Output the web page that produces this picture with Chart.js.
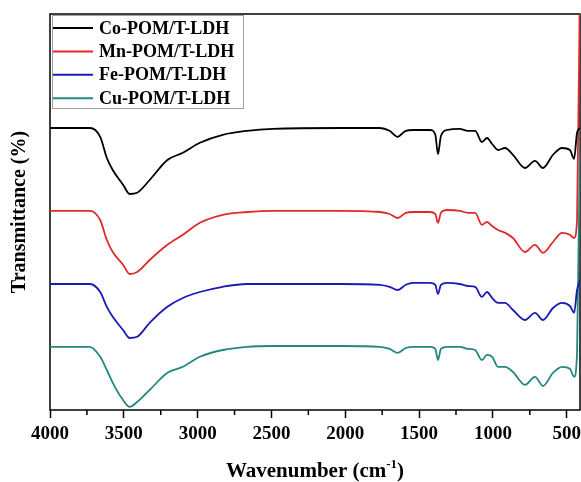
<!DOCTYPE html>
<html>
<head>
<meta charset="utf-8">
<script src="https://cdn.jsdelivr.net/npm/chart.js@4.4.1/dist/chart.umd.min.js"></script>
<style>
  html, body { margin: 0; padding: 0; background: #fff; }
</style>
</head>
<body>
<canvas id="ftir" width="581" height="482"></canvas>
<script>
// FTIR spectra, traces stacked with an offset (arbitrary transmittance units)
const wavenumbers = [4000, 3730, 3660, 3615, 3575, 3505, 3460, 3410, 3325, 3205, 3100, 2985, 2830, 2665, 2490, 2035,
  1765, 1700, 1645, 1590, 1540, 1425, 1390, 1372, 1352, 1310, 1225, 1170, 1120, 1075, 1040, 1005, 965, 918, 864,
  783, 715, 661, 593, 532, 478, 450, 430, 410];

const coT = [70.5, 70.5, 68.3, 63, 60, 56.3, 54, 54.3, 57.5, 62.5, 64.3, 66.8, 68.8, 69.8, 70.3, 70.5,
  70.5, 69.8, 68.3, 69.8, 70, 70, 68.8, 64, 68.5, 70, 70.3, 69.8, 69.8, 67, 68, 66.5, 65, 65.5, 63.8,
  60.5, 62.3, 60.5, 63.8, 65.5, 65, 62.8, 69.3, 70.5];
const mnT = [49.8, 49.8, 47.5, 42.5, 39.5, 36.3, 34, 34.5, 37.5, 41.3, 43.8, 46.8, 48.8, 49.5, 49.8, 49.8,
  49.5, 49, 48, 49.3, 49.5, 49.5, 49, 46.8, 49.3, 50, 49.8, 49.3, 49.3, 46.3, 47, 46, 45, 44.3, 43,
  39.5, 41.3, 39.3, 42, 44.3, 43.8, 43, 47.5, 110];
const feT = [31.5, 31.5, 29.5, 25.8, 23.3, 20, 18, 18.3, 21.8, 25.8, 28, 29.5, 30.8, 31.5, 31.5, 31.5,
  31.3, 30.8, 30, 31.3, 31.8, 31.8, 31.3, 29, 31.3, 31.8, 31.5, 31, 30.8, 28.3, 29.5, 28, 26.8, 26.8, 25,
  22.5, 24.3, 22.5, 25.5, 26.8, 26, 24.3, 30, 32.5];
const cuT = [15.8, 15.8, 13.3, 10, 6.8, 2.5, 0.8, 2, 5, 9.3, 10.8, 13.3, 15, 15.8, 16, 16,
  15.8, 15.3, 14.3, 15.5, 15.8, 15.8, 15.3, 12.5, 15.3, 15.8, 15.8, 15.3, 15, 12.5, 13.8, 13.3, 10.8, 10.8, 9.5,
  6.3, 8.3, 6, 9.3, 10.8, 10.3, 8.3, 14.3, 70];

const seriesNames = ['Co-POM/T-LDH', 'Mn-POM/T-LDH', 'Fe-POM/T-LDH', 'Cu-POM/T-LDH'];
const seriesColors = ['#000000', '#e02a2a', '#1a1ab4', '#23877f'];
const majorTicks = [4000, 3500, 3000, 2500, 2000, 1500, 1000, 500];
const minorTicks = [3750, 3250, 2750, 2250, 1750, 1250, 750];

const SERIF = "'Liberation Serif', 'Times New Roman', serif";

const framePlugin = {
    id: 'frame',
    beforeDatasetsDraw: (chart) => {
        const ctx = chart.ctx;
        const a = chart.chartArea;
        const x = chart.scales.x;
        ctx.save();
        ctx.strokeStyle = '#000';
        ctx.lineWidth = 1.5;
        ctx.strokeRect(a.left, a.top, a.right - a.left, a.bottom - a.top);
        // minor ticks, shorter than the major ones
        ctx.beginPath();
        minorTicks.forEach(v => {
            const px = x.getPixelForValue(v);
            ctx.moveTo(px, a.bottom);
            ctx.lineTo(px, a.bottom + 5);
        });
        ctx.stroke();
        ctx.restore();
    },
    afterDraw: (chart) => {
        const ctx = chart.ctx;
        const a = chart.chartArea;
        ctx.save();

        // legend box inside the plot, top left
        const lx = a.left + 2, ly = a.top + 1, lw = 191, lh = 93;
        ctx.fillStyle = '#fff';
        ctx.fillRect(lx, ly, lw, lh);
        ctx.strokeStyle = '#a0a0a0';
        ctx.lineWidth = 1;
        ctx.strokeRect(lx + 0.5, ly + 0.5, lw, lh);
        ctx.font = 'bold 18px ' + SERIF;
        ctx.textBaseline = 'middle';
        chart.data.datasets.forEach((ds, i) => {
            const ry = ly + 13 + i * 23.4;
            ctx.strokeStyle = ds.borderColor;
            ctx.lineWidth = 2;
            ctx.beginPath();
            ctx.moveTo(lx + 1, ry);
            ctx.lineTo(lx + 41, ry);
            ctx.stroke();
            ctx.fillStyle = '#000';
            ctx.fillText(ds.label, lx + 47, ry + 1);
        });

        // x axis title with superscript
        const main = 'Wavenumber (cm', sup = '-1', tail = ')';
        const cx = (a.left + a.right) / 2, by = 477;
        ctx.textBaseline = 'alphabetic';
        ctx.font = 'bold 21px ' + SERIF;
        const w1 = ctx.measureText(main).width, w3 = ctx.measureText(tail).width;
        ctx.font = 'bold 13px ' + SERIF;
        const w2 = ctx.measureText(sup).width;
        let sx = cx - (w1 + w2 + w3) / 2;
        ctx.fillStyle = '#000';
        ctx.font = 'bold 21px ' + SERIF;
        ctx.fillText(main, sx, by);
        ctx.font = 'bold 13px ' + SERIF;
        ctx.fillText(sup, sx + w1, by - 9);
        ctx.font = 'bold 21px ' + SERIF;
        ctx.fillText(tail, sx + w1 + w2, by);
        ctx.restore();
    }
};

const seriesValues = [coT, mnT, feT, cuT];

new Chart(document.getElementById('ftir').getContext('2d'), {
    type: 'line',
    data: {
        datasets: seriesValues.map((vals, i) => ({
            label: seriesNames[i],
            data: wavenumbers.map((w, j) => ({ x: w, y: vals[j] })),
            borderColor: seriesColors[i],
            borderWidth: 1.8,
            pointRadius: 0,
            fill: false,
            cubicInterpolationMode: 'monotone'
        }))
    },
    options: {
        responsive: false,
        animation: false,
        layout: { padding: { top: 14, right: 1, left: 0, bottom: 0 } },
        plugins: { legend: { display: false }, tooltip: { enabled: false } },
        scales: {
            x: {
                type: 'linear', reverse: true, min: 410, max: 4000,
                afterBuildTicks: (s) => { s.ticks = majorTicks.map(v => ({ value: v })); },
                afterFit: (s) => { s.height = 72; s.paddingLeft = 0; s.paddingRight = 0; },
                border: { display: false },
                grid: { drawOnChartArea: false, drawTicks: true, tickLength: 8, tickWidth: 1.5, tickColor: '#000' },
                ticks: {
                    callback: (v) => String(v), color: '#000', padding: 5,
                    maxRotation: 0, autoSkip: false,
                    font: { family: SERIF, size: 19, weight: 'bold' }
                }
            },
            y: {
                min: 0, max: 99,
                afterFit: (s) => { s.width = 50; },
                border: { display: false },
                grid: { display: false },
                ticks: { display: false },
                title: {
                    display: true, text: 'Transmittance (%)', color: '#000',
                    padding: { top: 8, bottom: 0 },
                    font: { family: SERIF, size: 20, weight: 'bold' }
                }
            }
        }
    },
    plugins: [framePlugin]
});
</script>
</body>
</html>
